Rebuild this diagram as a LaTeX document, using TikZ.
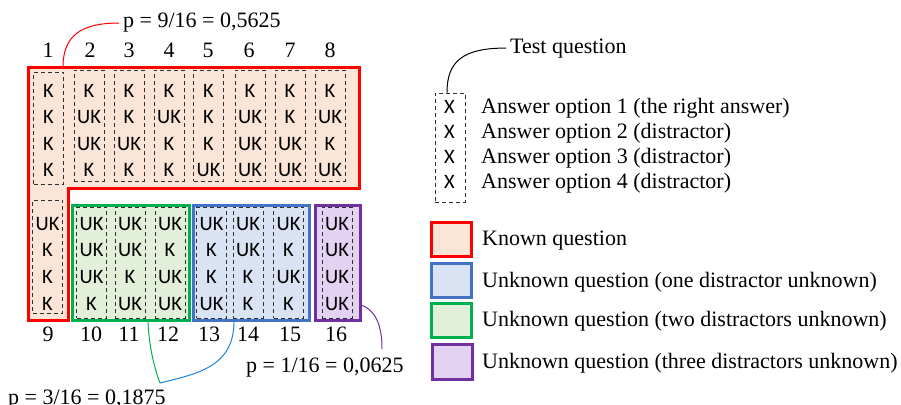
\documentclass[tikz,border=0pt]{standalone}
\usepackage{fontspec}
\setmainfont{Liberation Serif}
\newfontfamily\cellfont{Carlito}
\definecolor{knownfill}{HTML}{FBE5D6}
\definecolor{knownline}{HTML}{FF0000}
\definecolor{onefill}{HTML}{DAE3F3}
\definecolor{oneline}{HTML}{4472C4}
\definecolor{onelead}{HTML}{1F84D8}
\definecolor{twofill}{HTML}{E2F0D9}
\definecolor{twoline}{HTML}{00B050}
\definecolor{threefill}{HTML}{E3D2F1}
\definecolor{threeline}{HTML}{7030A0}
\definecolor{dashgray}{HTML}{303030}
\tikzset{
  serif/.style={font=\fontsize{22}{26}\selectfont, inner sep=0pt, anchor=base},
  cell/.style={font=\cellfont\fontsize{20.5}{24}\selectfont, inner sep=0pt, anchor=base},
  qcol/.style={draw=dashgray, dash pattern=on 4pt off 3pt, line width=0.9pt,
               minimum width=30pt, inner sep=0pt},
  groupbox/.style={line width=3pt, inner sep=0pt, minimum width=#1, minimum height=115pt},
  legendbox/.style={line width=3pt, inner sep=0pt, minimum width=40pt, minimum height=34pt},
  leader/.style={line width=1pt}
}
\begin{document}
\begin{tikzpicture}[x=1pt, y=-1pt]
\useasboundingbox (0,0) rectangle (901,404);

% known questions: stepped outline round columns 1-9
\draw[line width=3pt, draw=knownline, fill=knownfill, line join=miter]
  (28,67) -- (359,67) -- (359,188.5) -- (68,188.5) -- (68,320) -- (28,320) -- cycle;
\coordinate (knowntab) at (63,67);

% unknown question groups
\node[groupbox=117pt, draw=twoline, fill=twofill] (two) at (130.5,263.2) {};
\node[groupbox=116pt, draw=oneline, fill=onefill] (one) at (251.3,263.2) {};
\node[groupbox=45pt, draw=threeline, fill=threefill] (three) at (337.5,263.2) {};

% top row of test questions: number / x / box centre y / box height / four answers
\foreach \n/\x/\cy/\h/\a/\b/\c/\d in {
  1/48.5/128/112/K/K/K/K,
  2/89/125.5/111/K/UK/UK/K,
  3/129/125.5/111/K/K/UK/K,
  4/169/125.5/111/K/UK/K/K,
  5/208.5/125.5/111/K/K/K/UK,
  6/250/125.5/111/K/UK/UK/UK,
  7/290/125.5/111/K/K/UK/UK,
  8/330/125.5/111/K/UK/K/UK} {
  \node[qcol, minimum height=\h pt] (q\n) at (\x,\cy) {};
  \node[cell] (q\n-a) at (\x,97) {\a};
  \node[cell] (q\n-b) at (\x,123.5) {\b};
  \node[cell] (q\n-c) at (\x,150) {\c};
  \node[cell] (q\n-d) at (\x,176.5) {\d};
}

% bottom row of test questions
\foreach \n/\x/\cy/\h/\a/\b/\c/\d in {
  9/47.5/256.5/113/UK/K/K/K,
  10/91.5/262.5/111/UK/UK/UK/K,
  11/130/262.5/111/UK/UK/K/UK,
  12/170/262.5/111/UK/K/UK/UK,
  13/211.5/262.5/111/UK/K/K/UK,
  14/248/262.5/111/UK/UK/K/K,
  15/288.5/262.5/111/UK/K/UK/K,
  16/337/262.5/111/UK/UK/UK/UK} {
  \node[qcol, minimum height=\h pt] (q\n) at (\x,\cy) {};
  \node[cell] (q\n-a) at (\x,230) {\a};
  \node[cell] (q\n-b) at (\x,256.7) {\b};
  \node[cell] (q\n-c) at (\x,283.3) {\c};
  \node[cell] (q\n-d) at (\x,310) {\d};
}

% question numbers
\foreach \n/\x in {1/48,2/90,3/129,4/169,5/208,6/249,7/290,8/330}
  \node[serif] (n\n) at (\x,58) {\n};
\foreach \n/\x in {9/48,10/91,11/129,12/168,13/209,14/248,15/290,16/336}
  \node[serif] (n\n) at (\x,341.5) {\n};

% probabilities
\node[serif, anchor=base west] (p9) at (123,28) {p = 9/16 = 0,5625};
\node[serif, anchor=base west] (p3) at (8,404) {p = 3/16 = 0,1875};
\node[serif, anchor=base west] (p1) at (246,372) {p = 1/16 = 0,0625};

\draw[leader, knownline] (knowntab) .. controls (63,35) and (82,23) .. ([xshift=-4pt]p9.west);

\coordinate (twotab) at (148,321.5);
\coordinate (onetab) at (234,321.5);
\coordinate (threetab) at (361,305);
\coordinate (pjoin) at (160,383);
\coordinate (p1tip) at (382,349);
\draw[leader, twoline] (twotab) .. controls (149,350) and (156,372) .. (pjoin);
\draw[leader, onelead] (onetab) .. controls (234,368) and (195,374) .. (pjoin);
\draw[leader, threeline] (threetab) .. controls (378,311) and (382,330) .. (p1tip);

% test question explanation
\node[qcol, minimum height=109pt] (tq) at (450,147.5) {};
\foreach \i/\y in {1/113,2/138,3/163,4/188}
  \node[cell] (x\i) at (449.5,\y) {X};
\node[serif, anchor=base west] (tqlabel) at (510,53) {Test question};
\draw[leader] ([xshift=-3pt]tq.north) .. controls (447,62) and (462,48) .. ([xshift=-4pt]tqlabel.west);
\node[serif, anchor=base west] (o1) at (481,113) {Answer option 1 (the right answer)};
\node[serif, anchor=base west] (o2) at (481,138) {Answer option 2 (distractor)};
\node[serif, anchor=base west] (o3) at (481,163) {Answer option 3 (distractor)};
\node[serif, anchor=base west] (o4) at (481,188) {Answer option 4 (distractor)};

% legend
\node[legendbox, draw=knownline, fill=knownfill] (lk) at (451,239) {};
\node[legendbox, draw=oneline, fill=onefill] (l1) at (451,280) {};
\node[legendbox, draw=twoline, fill=twofill] (l2) at (451,320.5) {};
\node[legendbox, minimum height=35pt, draw=threeline, fill=threefill] (l3) at (452,361.5) {};
\node[serif, anchor=base west] (tk) at (482,245) {Known question};
\node[serif, anchor=base west] (t1) at (482,287) {Unknown question (one distractor unknown)};
\node[serif, anchor=base west] (t2) at (482,326) {Unknown question (two distractors unknown)};
\node[serif, anchor=base west] (t3) at (482,368) {Unknown question (three distractors unknown)};
\end{tikzpicture}
\end{document}
